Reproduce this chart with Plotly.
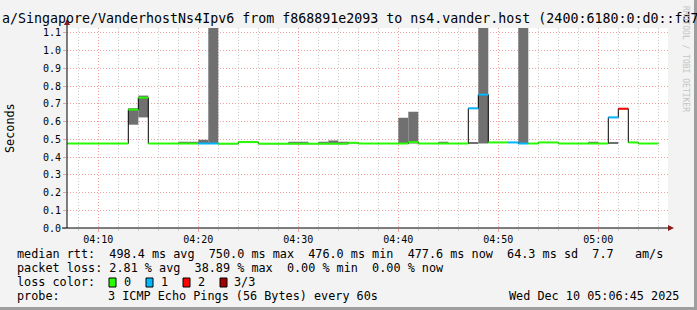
import plotly.graph_objects as go
import datetime as dt

# ---------------- data ----------------
minutes = list(range(6, 66))  # minute index after 04:00 (04:06 .. 05:05)
median = [0.476, 0.476, 0.476, 0.476, 0.476, 0.476, 0.476,  # 04:06-04:12
          0.667, 0.734,                                      # 04:13-04:14
          0.476, 0.476, 0.476, 0.476, 0.476,                 # 04:15-04:19
          0.476, 0.476,                                      # 04:20-04:21
          0.475, 0.475, 0.484, 0.484, 0.475, 0.475, 0.475,   # 04:22-04:28
          0.475, 0.475, 0.475, 0.475, 0.475, 0.475, 0.480,   # 04:29-04:35
          0.476, 0.476, 0.476, 0.476, 0.476, 0.484, 0.476,   # 04:36-04:42
          0.476, 0.476, 0.476, 0.476,                        # 04:43-04:46
          0.674, 0.751,                                      # 04:47-04:48
          0.482, 0.482, 0.482, 0.476, 0.476, 0.482, 0.482,   # 04:49-04:55
          0.476, 0.476, 0.476, 0.476, 0.476,                 # 04:56-05:00
          0.623, 0.672,                                      # 05:01-05:02
          0.482, 0.476, 0.476]                               # 05:03-05:05
loss = [0, 0, 0, 0, 0, 0, 0,
        0, 0,
        0, 0, 0, 0, 0,
        1, 1,
        0, 0, 0, 0, 0, 0, 0,
        0, 0, 0, 0, 0, 0, 0,
        0, 0, 0, 0, 0, 0, 0,
        0, 0, 0, 0,
        1, 1,
        0, 0, 1, 1, 0, 0, 0,
        0, 0, 0, 0, 0,
        1, 2,
        0, 0, 0]
smoke_min = [None] * 60
smoke_max = [None] * 60
smoke_pts = {13: (0.582, 0.675), 14: (0.623, 0.746), 18: (0.476, 0.486), 19: (0.476, 0.486),
             20: (0.476, 0.497), 21: (0.476, 1.6), 29: (0.476, 0.486), 30: (0.476, 0.486),
             32: (0.476, 0.486), 33: (0.476, 0.493), 34: (0.476, 0.486),
             40: (0.476, 0.621), 41: (0.476, 0.655), 44: (0.476, 0.486),
             47: (0.476, 0.482), 48: (0.476, 1.6), 52: (0.476, 1.6), 59: (0.476, 0.486),
             61: (0.476, 0.482)}
for m, (lo, hi) in smoke_pts.items():
    smoke_min[m - 6] = lo
    smoke_max[m - 6] = hi

loss_colors = ["#26ff00", "#00b8ff", "#ff0000", "#a00000"]
loss_labels = ["0", "1", "2", "3/3"]
y_ticks = [0.0, 0.1, 0.2, 0.3, 0.4, 0.5, 0.6, 0.7, 0.8, 0.9, 1.0, 1.1]

title_text = "a/Singapore/VanderhostNs4Ipv6 from f868891e2093 to ns4.vander.host (2400:6180:0:d0::fd7"
row1 = "median rtt:  498.4 ms avg  750.0 ms max  476.0 ms min  477.6 ms now  64.3 ms sd  7.7   am/s"
row2 = "packet loss: 2.81 % avg  38.89 % max  0.00 % min  0.00 % now"
probe_text = "3 ICMP Echo Pings (56 Bytes) every 60s"
date_text = "Wed Dec 10 05:06:45 2025"

# ---------------- geometry ----------------
W, H = 697, 310
L, R, T, B = 67, 668, 28, 228
PW, PH = R - L, B - T


def px(x):
    return (x - L) / PW


def py(y):
    return (B - y) / PH


base = dt.datetime(2025, 12, 10, 4, 0, 0)
starts = [base + dt.timedelta(minutes=m) for m in minutes]
centers = [s + dt.timedelta(seconds=30) for s in starts]
end_time = starts[-1] + dt.timedelta(minutes=1)

fig = go.Figure()

# smoke
bx, by, bb = [], [], []
for c, lo, hi in zip(centers, smoke_min, smoke_max):
    if lo is None:
        continue
    bx.append(c)
    bb.append(lo)
    by.append(hi - lo)
fig.add_trace(go.Bar(x=bx, y=by, base=bb, width=60000, marker=dict(color="#707070", line=dict(width=0)),
                     hoverinfo="skip"))

# black median step line
fig.add_trace(go.Scatter(x=starts + [end_time], y=median + [median[-1]], mode="lines",
                         line=dict(color="black", width=1, shape="hv"), hoverinfo="skip"))

# loss-colored median segments
for k, col in enumerate(loss_colors):
    xs, ys = [], []
    for s, v, l in zip(starts, median, loss):
        if l == k:
            xs += [s, s + dt.timedelta(minutes=1), None]
            ys += [v, v, None]
    if xs:
        fig.add_trace(go.Scatter(x=xs, y=ys, mode="lines", line=dict(color=col, width=2),
                                 hoverinfo="skip"))

mono = "DejaVu Sans Mono"
x0 = dt.datetime(2025, 12, 10, 4, 10) - dt.timedelta(seconds=(98.3 - L) * 6)
x1 = dt.datetime(2025, 12, 10, 4, 10) + dt.timedelta(seconds=(R - 98.3) * 6)

fig.update_layout(
    width=W, height=H,
    margin=dict(l=L, r=W - R, t=T, b=H - B, pad=0),
    paper_bgcolor="#f3f3f3", plot_bgcolor="white",
    showlegend=False, barmode="overlay",
    font=dict(family=mono, size=10, color="black"),
    xaxis=dict(type="date", range=[x0, x1], tickformat="%H:%M", dtick=600000,
               tick0="2025-12-10 04:00:00", showgrid=True, gridcolor="#f2a0a0",
               griddash="1px,2px", gridwidth=1, zeroline=False, showline=False,
               ticks="outside", ticklen=3, tickcolor="#f2a0a0", ticklabelstandoff=-1,
               tickfont=dict(family=mono, size=10, color="black"),
               minor=dict(dtick=120000, tick0="2025-12-10 04:00:00", showgrid=True,
                          gridcolor="#cccccc", griddash="1px,2px", ticks="outside",
                          ticklen=2, tickcolor="#cccccc")),
    yaxis=dict(range=[0, (B - T) / 177.5], tickvals=y_ticks, ticktext=[f"{v:.1f}" for v in y_ticks],
               showgrid=True, gridcolor="#f2a0a0", griddash="1px,2px", zeroline=False,
               showline=False, ticks="outside", ticklen=3, tickcolor="#f2a0a0",
               tickfont=dict(family=mono, size=10, color="black")),
)

shapes = []
# axes
shapes.append(dict(type="line", xref="paper", yref="paper", x0=px(L), x1=px(L), y0=py(B), y1=py(22),
                   line=dict(color="black", width=1)))
shapes.append(dict(type="line", xref="paper", yref="paper", x0=px(62), x1=px(670), y0=py(B), y1=py(B),
                   line=dict(color="black", width=1)))
# arrows
shapes.append(dict(type="path", xref="paper", yref="paper",
                   path=f"M {px(64)} {py(25)} L {px(70)} {py(25)} L {px(67)} {py(19)} Z",
                   fillcolor="#8b1a1a", line=dict(width=0)))
shapes.append(dict(type="path", xref="paper", yref="paper",
                   path=f"M {px(668)} {py(225)} L {px(668)} {py(231)} L {px(674)} {py(228)} Z",
                   fillcolor="#8b1a1a", line=dict(width=0)))
# frame shading
shapes.append(dict(type="rect", xref="paper", yref="paper", x0=px(0), x1=px(697), y0=py(307), y1=py(310),
                   fillcolor="#9e9e9e", line=dict(width=0), layer="below"))
shapes.append(dict(type="rect", xref="paper", yref="paper", x0=px(694), x1=px(697), y0=py(0), y1=py(310),
                   fillcolor="#9e9e9e", line=dict(width=0), layer="below"))
# loss color boxes
box_x = [109, 146, 183, 220]
for bxp, col in zip(box_x, loss_colors):
    shapes.append(dict(type="rect", xref="paper", yref="paper", x0=px(bxp), x1=px(bxp + 7),
                       y0=py(287), y1=py(278), fillcolor=col, line=dict(color="black", width=1)))
fig.update_layout(shapes=shapes)

ann = []


def text(s, x, y, size=11.8, anchor="left", color="black", angle=0):
    ann.append(dict(text=s, xref="paper", yref="paper", x=px(x), y=py(y), xanchor=anchor,
                    yanchor="middle", showarrow=False, borderpad=0, textangle=angle,
                    font=dict(family=mono, size=size, color=color)))


text(title_text, 1, 18.5, size=13.3)
text("Seconds", 10, 128, angle=-90, anchor="center")
text(row1, 16, 254.3)
text(row2, 16, 268.3)
text("loss color:", 16, 282.3)
label_x = [123.3, 160, 196.7, 233.3]
for lab, xx in zip(loss_labels, label_x):
    text(lab, xx, 282.3)
text("probe:", 16, 296)
text(probe_text, 107.3, 296)
text(date_text, 680, 296, anchor="right")
text("RRDTOOL / TOBI OETIKER", 686, 59, size=8, color="#c4c4c4", angle=90, anchor="center")
fig.update_layout(annotations=ann)

fig.write_html("out.html")
